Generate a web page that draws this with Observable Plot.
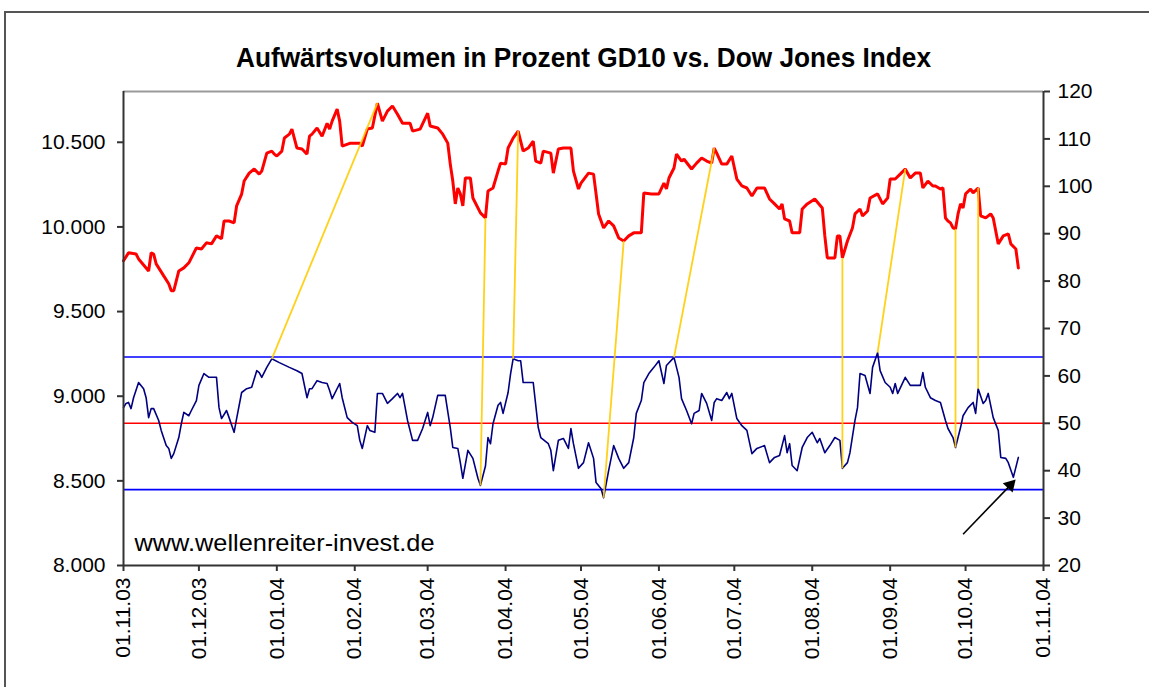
<!DOCTYPE html>
<html><head><meta charset="utf-8">
<script src="https://cdn.jsdelivr.net/npm/d3@7"></script>
<script src="https://cdn.jsdelivr.net/npm/@observablehq/plot@0.6"></script>
<style>
body{margin:0;background:#fff;}
#wrap{position:relative;width:1149px;height:687px;overflow:hidden;background:#fff;}
#border{position:absolute;left:4px;top:11px;width:1250px;height:800px;border:2px solid #555;box-sizing:border-box;}
#chart{position:absolute;left:0;top:0;}
</style></head><body><div id="wrap"><div id="border"></div><div id="chart"></div></div>
<script>
// ---------- data ----------
const titleText = "Aufwärtsvolumen in Prozent GD10 vs. Dow Jones Index";
const watermark = "www.wellenreiter-invest.de";
const xDomain = ["2003-11-01", "2004-11-01"];
const xTicks = ["2003-11-01","2003-12-01","2004-01-01","2004-02-01","2004-03-01","2004-04-01","2004-05-01","2004-06-01","2004-07-01","2004-08-01","2004-09-01","2004-10-01","2004-11-01"];
const leftDomain = [8000, 10800];
const leftTicks = [8000, 8500, 9000, 9500, 10000, 10500];
const rightDomain = [20, 120];
const rightTicks = [20, 30, 40, 50, 60, 70, 80, 90, 100, 110, 120];
const bandLevels = [36, 64];   // blue lines (right axis)
const midLevel = [50];         // red line (right axis)

// Dow Jones Index (left axis)
const djSeries = [["2003-11-01",9800],["2003-11-03",9847],["2003-11-06",9840],["2003-11-07",9811],["2003-11-11",9740],["2003-11-12",9847],["2003-11-13",9840],["2003-11-14",9782],["2003-11-17",9711],["2003-11-19",9664],["2003-11-20",9623],["2003-11-21",9623],["2003-11-23",9740],["2003-11-25",9758],["2003-11-27",9788],["2003-11-30",9876],["2003-12-02",9870],["2003-12-04",9906],["2003-12-06",9900],["2003-12-08",9947],["2003-12-10",9930],["2003-12-11",10035],["2003-12-13",10035],["2003-12-15",10024],["2003-12-16",10124],["2003-12-18",10194],["2003-12-19",10271],["2003-12-21",10318],["2003-12-23",10342],["2003-12-25",10312],["2003-12-26",10330],["2003-12-28",10436],["2003-12-30",10448],["2003-12-31",10430],["2004-01-01",10419],["2004-01-03",10448],["2004-01-04",10525],["2004-01-06",10548],["2004-01-07",10578],["2004-01-09",10466],["2004-01-11",10460],["2004-01-13",10430],["2004-01-14",10536],["2004-01-15",10548],["2004-01-17",10584],["2004-01-19",10536],["2004-01-21",10612],["2004-01-22",10578],["2004-01-23",10625],["2004-01-25",10696],["2004-01-26",10625],["2004-01-27",10477],["2004-01-30",10494],["2004-02-03",10494],["2004-02-04",10477],["2004-02-06",10578],["2004-02-08",10584],["2004-02-10",10731],["2004-02-12",10625],["2004-02-14",10684],["2004-02-16",10714],["2004-02-18",10666],["2004-02-20",10612],["2004-02-23",10612],["2004-02-24",10566],["2004-02-27",10578],["2004-03-01",10672],["2004-03-02",10596],["2004-03-05",10584],["2004-03-07",10548],["2004-03-09",10495],["2004-03-10",10371],["2004-03-11",10271],["2004-03-12",10136],["2004-03-13",10230],["2004-03-14",10195],["2004-03-15",10124],["2004-03-16",10289],["2004-03-18",10289],["2004-03-19",10171],["2004-03-22",10083],["2004-03-24",10053],["2004-03-25",10212],["2004-03-27",10230],["2004-03-29",10330],["2004-03-30",10377],["2004-04-01",10371],["2004-04-02",10466],["2004-04-04",10525],["2004-04-06",10566],["2004-04-08",10448],["2004-04-10",10466],["2004-04-12",10507],["2004-04-13",10389],["2004-04-15",10377],["2004-04-16",10448],["2004-04-19",10436],["2004-04-20",10318],["2004-04-22",10460],["2004-04-24",10466],["2004-04-27",10466],["2004-04-28",10330],["2004-04-30",10224],["2004-05-01",10259],["2004-05-04",10318],["2004-05-06",10312],["2004-05-07",10195],["2004-05-08",10077],["2004-05-10",9994],["2004-05-12",10035],["2004-05-14",10006],["2004-05-16",9935],["2004-05-18",9917],["2004-05-20",9947],["2004-05-22",9965],["2004-05-25",9965],["2004-05-26",10201],["2004-05-29",10195],["2004-06-01",10195],["2004-06-03",10259],["2004-06-04",10224],["2004-06-05",10289],["2004-06-07",10348],["2004-06-08",10430],["2004-06-10",10389],["2004-06-11",10400],["2004-06-14",10342],["2004-06-16",10377],["2004-06-18",10407],["2004-06-20",10389],["2004-06-22",10377],["2004-06-23",10466],["2004-06-24",10436],["2004-06-26",10371],["2004-06-28",10371],["2004-06-30",10419],["2004-07-02",10283],["2004-07-04",10242],["2004-07-06",10230],["2004-07-08",10183],["2004-07-10",10230],["2004-07-13",10230],["2004-07-15",10165],["2004-07-17",10136],["2004-07-19",10106],["2004-07-20",10136],["2004-07-21",10047],["2004-07-23",10035],["2004-07-24",9965],["2004-07-27",9965],["2004-07-28",10106],["2004-07-30",10136],["2004-08-02",10165],["2004-08-05",10112],["2004-08-06",9947],["2004-08-07",9817],["2004-08-10",9817],["2004-08-11",9947],["2004-08-12",9947],["2004-08-13",9817],["2004-08-15",9917],["2004-08-17",9994],["2004-08-18",10077],["2004-08-20",10106],["2004-08-21",10065],["2004-08-23",10094],["2004-08-24",10171],["2004-08-27",10195],["2004-08-29",10136],["2004-08-31",10171],["2004-09-01",10283],["2004-09-03",10283],["2004-09-05",10312],["2004-09-07",10342],["2004-09-09",10289],["2004-09-11",10318],["2004-09-13",10318],["2004-09-14",10230],["2004-09-16",10271],["2004-09-18",10242],["2004-09-19",10242],["2004-09-21",10224],["2004-09-22",10230],["2004-09-23",10053],["2004-09-24",10035],["2004-09-25",10024],["2004-09-26",9994],["2004-09-27",9988],["2004-09-28",10077],["2004-09-29",10136],["2004-09-30",10112],["2004-10-01",10195],["2004-10-03",10224],["2004-10-04",10201],["2004-10-06",10230],["2004-10-07",10065],["2004-10-09",10053],["2004-10-11",10077],["2004-10-12",10053],["2004-10-14",9900],["2004-10-16",9947],["2004-10-18",9959],["2004-10-19",9900],["2004-10-21",9870],["2004-10-22",9758]];

// Aufwärtsvolumen in Prozent, GD10 (right axis)
const volSeries = [["2003-11-01",53.3],["2003-11-02",54.2],["2003-11-03",54.4],["2003-11-04",53.1],["2003-11-05",55.4],["2003-11-07",58.6],["2003-11-09",57.3],["2003-11-10",55.4],["2003-11-11",51.2],["2003-11-12",53.1],["2003-11-13",53.1],["2003-11-15",50.6],["2003-11-16",48.5],["2003-11-18",45.3],["2003-11-19",44.7],["2003-11-20",42.6],["2003-11-21",43.6],["2003-11-23",47.0],["2003-11-24",49.9],["2003-11-25",52.3],["2003-11-27",51.6],["2003-11-28",52.7],["2003-11-30",54.8],["2003-12-01",58.0],["2003-12-03",60.5],["2003-12-05",59.7],["2003-12-08",59.7],["2003-12-09",53.3],["2003-12-10",51.0],["2003-12-12",52.7],["2003-12-13",51.2],["2003-12-15",48.1],["2003-12-16",51.0],["2003-12-18",56.5],["2003-12-20",57.3],["2003-12-22",57.6],["2003-12-24",61.1],["2003-12-25",60.7],["2003-12-26",59.7],["2003-12-28",61.8],["2003-12-30",63.6],["2004-01-02",62.8],["2004-01-06",61.8],["2004-01-09",61.1],["2004-01-11",60.5],["2004-01-13",55.4],["2004-01-14",57.3],["2004-01-15",57.3],["2004-01-17",59.0],["2004-01-19",58.6],["2004-01-21",58.4],["2004-01-22",56.9],["2004-01-23",55.2],["2004-01-26",58.4],["2004-01-27",55.4],["2004-01-29",51.2],["2004-01-31",50.2],["2004-02-02",49.5],["2004-02-03",46.4],["2004-02-04",44.7],["2004-02-06",49.5],["2004-02-07",48.5],["2004-02-09",48.1],["2004-02-10",56.3],["2004-02-12",56.3],["2004-02-14",54.2],["2004-02-16",55.2],["2004-02-18",56.3],["2004-02-19",55.4],["2004-02-20",56.3],["2004-02-22",50.6],["2004-02-24",46.4],["2004-02-26",46.4],["2004-02-28",48.9],["2004-03-01",52.3],["2004-03-02",49.5],["2004-03-03",51.2],["2004-03-05",55.9],["2004-03-08",55.9],["2004-03-10",49.1],["2004-03-11",44.9],["2004-03-13",44.7],["2004-03-14",41.7],["2004-03-15",38.4],["2004-03-17",44.3],["2004-03-19",42.6],["2004-03-21",38.4],["2004-03-22",36.9],["2004-03-24",41.0],["2004-03-25",47.0],["2004-03-26",45.7],["2004-03-27",49.9],["2004-03-29",53.8],["2004-03-30",54.4],["2004-03-31",52.1],["2004-04-02",56.5],["2004-04-03",60.5],["2004-04-04",63.6],["2004-04-06",63.2],["2004-04-07",63.2],["2004-04-08",58.6],["2004-04-12",58.6],["2004-04-14",49.1],["2004-04-15",47.0],["2004-04-18",45.7],["2004-04-19",44.3],["2004-04-20",40.0],["2004-04-22",46.4],["2004-04-24",46.8],["2004-04-26",44.7],["2004-04-27",48.9],["2004-04-28",45.7],["2004-04-30",40.5],["2004-05-02",41.7],["2004-05-04",45.9],["2004-05-06",42.6],["2004-05-07",37.5],["2004-05-09",36.2],["2004-05-10",34.3],["2004-05-12",40.0],["2004-05-14",45.3],["2004-05-16",42.6],["2004-05-18",40.5],["2004-05-20",41.7],["2004-05-22",47.0],["2004-05-23",52.1],["2004-05-25",54.8],["2004-05-26",58.6],["2004-05-28",60.5],["2004-05-30",61.8],["2004-06-01",63.2],["2004-06-03",58.4],["2004-06-04",62.2],["2004-06-07",63.9],["2004-06-09",59.7],["2004-06-10",55.2],["2004-06-12",52.7],["2004-06-14",49.9],["2004-06-15",52.1],["2004-06-17",52.7],["2004-06-18",56.3],["2004-06-20",54.2],["2004-06-22",50.6],["2004-06-23",54.4],["2004-06-24",55.2],["2004-06-26",54.8],["2004-06-28",56.5],["2004-06-29",55.2],["2004-06-30",56.3],["2004-07-02",51.0],["2004-07-04",49.5],["2004-07-06",48.5],["2004-07-08",43.6],["2004-07-10",44.7],["2004-07-13",45.3],["2004-07-15",41.7],["2004-07-17",42.8],["2004-07-19",43.2],["2004-07-21",47.4],["2004-07-22",43.8],["2004-07-23",45.7],["2004-07-24",41.1],["2004-07-26",40.0],["2004-07-28",44.9],["2004-07-30",47.0],["2004-08-01",48.1],["2004-08-03",45.9],["2004-08-04",46.8],["2004-08-06",43.8],["2004-08-08",45.3],["2004-08-10",47.0],["2004-08-12",46.4],["2004-08-13",40.5],["2004-08-15",41.7],["2004-08-16",43.8],["2004-08-18",50.6],["2004-08-19",53.3],["2004-08-20",60.5],["2004-08-22",60.1],["2004-08-24",56.3],["2004-08-25",61.8],["2004-08-27",64.9],["2004-08-28",61.1],["2004-08-30",58.6],["2004-09-01",57.6],["2004-09-02",56.3],["2004-09-03",58.4],["2004-09-04",56.3],["2004-09-07",59.7],["2004-09-09",58.0],["2004-09-11",58.0],["2004-09-13",58.0],["2004-09-14",60.7],["2004-09-15",57.6],["2004-09-17",55.4],["2004-09-19",54.8],["2004-09-21",54.4],["2004-09-23",50.6],["2004-09-24",48.9],["2004-09-26",47.0],["2004-09-27",44.9],["2004-09-29",49.1],["2004-09-30",51.6],["2004-10-02",53.3],["2004-10-04",54.4],["2004-10-05",52.1],["2004-10-06",57.3],["2004-10-08",54.2],["2004-10-09",54.8],["2004-10-10",56.3],["2004-10-12",51.2],["2004-10-14",48.5],["2004-10-15",42.8],["2004-10-17",42.6],["2004-10-18",41.7],["2004-10-20",38.6],["2004-10-21",40.7],["2004-10-22",42.8]];

// divergence lines: DJ end (left axis) paired with volume end (right axis)
const linkDjEnds = [["2004-02-10",10731],["2004-03-24",10053],["2004-04-06",10566],["2004-05-18",9917],["2004-06-23",10466],["2004-08-13",9817],["2004-09-07",10342],["2004-09-27",9988],["2004-10-06",10230]];
const linkVolEnds = [["2003-12-30",63.6],["2004-03-22",36.9],["2004-04-04",63.6],["2004-05-10",34.3],["2004-06-07",63.9],["2004-08-13",40.5],["2004-08-27",64.9],["2004-09-27",44.9],["2004-10-06",57.3]];

// arrow annotation (right-axis units)
const arrowFrom = ["2004-09-30", 26.6];
const arrowTo = ["2004-10-20", 37.6];

// ---------- build ----------
const parse = d3.utcParse("%Y-%m-%d");
const k = (leftDomain[1] - leftDomain[0]) / (rightDomain[1] - rightDomain[0]);
const toLeft = v => leftDomain[0] + (v - rightDomain[0]) * k;
const fromLeft = y => Math.round(rightDomain[0] + (y - leftDomain[0]) / k);
const fmtLeft = d => d3.format(",")(d).replace(/,/g, ".");
const fmtDate = d3.utcFormat("%d.%m.%y");

const dj = djSeries.map(([d, v]) => ({date: parse(d), value: v}));
const vol = volSeries.map(([d, v]) => ({date: parse(d), value: toLeft(v)}));
const links = linkDjEnds.map((a, i) => ({
  x1: parse(a[0]), y1: a[1],
  x2: parse(linkVolEnds[i][0]), y2: toLeft(linkVolEnds[i][1])
}));
const arrow = [{x1: parse(arrowFrom[0]), y1: toLeft(arrowFrom[1]), x2: parse(arrowTo[0]), y2: toLeft(arrowTo[1])}];
const x0 = parse(xDomain[0]), x1 = parse(xDomain[1]);
const axisColor = "#333";
const font = "'Liberation Sans', Arial, sans-serif";

const chart = Plot.plot({
  width: 1149,
  height: 687,
  marginLeft: 123,
  marginRight: 106,
  marginTop: 91,
  marginBottom: 122,
  style: {fontFamily: font, background: "transparent", color: "#000", overflow: "visible"},
  x: {type: "utc", domain: [x0, x1]},
  y: {domain: leftDomain},
  marks: [
    Plot.ruleY(bandLevels.map(toLeft), {stroke: "#0000ff", strokeWidth: 1.6}),
    Plot.ruleY(midLevel.map(toLeft), {stroke: "#ff0000", strokeWidth: 1.6}),
    Plot.line(dj, {x: "date", y: "value", stroke: "#ff0000", strokeWidth: 3, strokeLinejoin: "miter"}),
    Plot.line(vol, {x: "date", y: "value", stroke: "#000080", strokeWidth: 1.6}),
    Plot.link(links, {x1: "x1", y1: "y1", x2: "x2", y2: "y2", stroke: "#ffcc00", strokeWidth: 1.8, strokeOpacity: 0.9}),
    Plot.link(arrow, {x1: "x1", y1: "y1", x2: "x2", y2: "y2", stroke: "#000", strokeWidth: 1.6}),
    Plot.dot(arrow, {x: "x2", y: "y2", symbol: "triangle", r: 5, fill: "#000", stroke: "none", rotate: 43, dx: -3, dy: 3}),
    // plot-area border
    Plot.ruleY([leftDomain[1]], {stroke: "#9a9a9a", strokeWidth: 2}),
    Plot.ruleY([leftDomain[0]], {stroke: axisColor, strokeWidth: 2}),
    Plot.ruleX([x0], {stroke: axisColor, strokeWidth: 2}),
    Plot.ruleX([x1], {stroke: axisColor, strokeWidth: 2}),
    // axes
    Plot.axisY(leftTicks, {anchor: "left", tickSize: 6, tickPadding: 12, tickFormat: fmtLeft, fontSize: 21, label: null, stroke: axisColor, strokeWidth: 2}),
    Plot.axisY(rightTicks.map(toLeft), {anchor: "right", tickSize: 6, tickPadding: 8, tickFormat: fromLeft, fontSize: 21, label: null, stroke: axisColor, strokeWidth: 2}),
    Plot.axisX(xTicks.map(parse), {anchor: "bottom", tickSize: 6, tickPadding: 6, tickRotate: -90, tickFormat: fmtDate, fontSize: 21, label: null, stroke: axisColor, strokeWidth: 2}),
    // texts
    Plot.text([titleText], {frameAnchor: "top", lineAnchor: "middle", dy: -33, fontSize: 27, fontWeight: "bold", fill: "#000", className: "ttl"}),
    Plot.text([watermark], {frameAnchor: "bottom-left", textAnchor: "start", lineAnchor: "bottom", dx: 11, dy: -15, fontSize: 24, fill: "#000", className: "wm"})
  ]
});
document.getElementById("chart").appendChild(chart);
const svg = d3.select(chart);
svg.selectAll(".ttl text").attr("textLength", 695).attr("lengthAdjust", "spacingAndGlyphs");
svg.selectAll(".wm text").attr("textLength", 300).attr("lengthAdjust", "spacingAndGlyphs");
</script>
</body></html>
